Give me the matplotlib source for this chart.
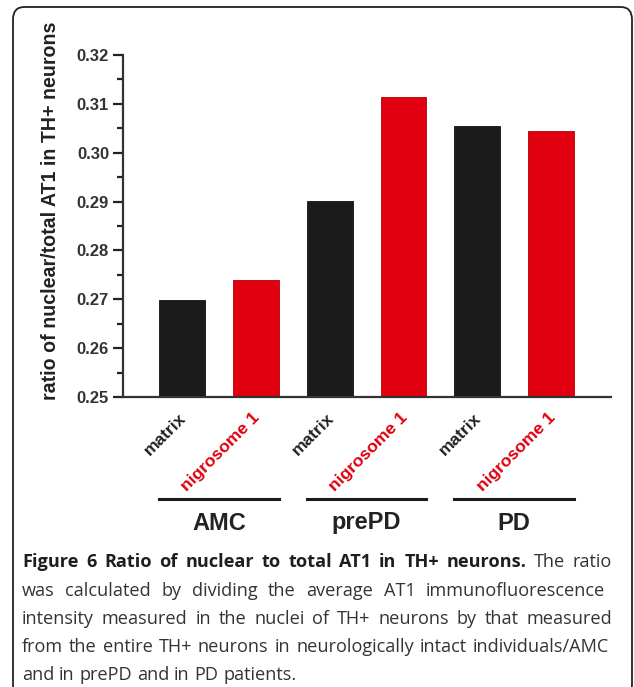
import matplotlib
matplotlib.use('Agg')
import matplotlib.pyplot as plt
from matplotlib.patches import FancyBboxPatch
from matplotlib.transforms import blended_transform_factory, ScaledTranslation

# data
labels = ['matrix', 'nigrosome 1', 'matrix', 'nigrosome 1', 'matrix', 'nigrosome 1']
values = [0.2698, 0.2739, 0.2902, 0.3114, 0.3055, 0.3045]
groups = ['AMC', 'prePD', 'PD']
black = '#1b1b1b'
red = '#e0000f'
bar_colors = [black, red, black, red, black, red]

caption_bold = 'Figure 6 Ratio of nuclear to total AT1 in TH+ neurons.'
caption_lines = ['The ratio',
                 'was calculated by dividing the average AT1 immunofluorescence',
                 'intensity measured in the nuclei of TH+ neurons by that measured',
                 'from the entire TH+ neurons in neurologically intact individuals/AMC',
                 'and in prePD and in PD patients.']


def put_line(fig, words, y, x0, x1, justify, W, H, fs):
    # words: list of (text, weight); spread them between x0 and x1
    r = fig.canvas.get_renderer()
    items = []
    for w, wt in words:
        t = fig.text(0, (H - y) / H, w, fontsize=fs, family='Open Sans',
                     fontweight=wt, va='center',
                     color='#1e1e1e' if wt == 'bold' else '#333333')
        items.append((t, t.get_window_extent(r).width))
    total = sum(wd for _, wd in items)
    if justify and len(items) > 1:
        gap = (x1 - x0 - total) / (len(items) - 1)
    else:
        gap = fs * 0.26 * 100 / 72
    x = x0
    for t, wd in items:
        t.set_x(x / W)
        x += wd + gap


def main():
    W, H = 634, 687
    fig = plt.figure(figsize=(W / 100, H / 100), dpi=100)
    plt.rcParams['font.family'] = 'Liberation Sans'

    # rounded frame round the whole figure
    box = FancyBboxPatch((13 / W, -10 / H), (632 - 13) / W, (H - 7 + 10) / H,
                         boxstyle='round,pad=0,rounding_size=0.018',
                         transform=fig.transFigure, fill=False,
                         edgecolor='#222222', lw=1.3)
    fig.patches.append(box)

    ax = fig.add_axes([123 / W, (H - 397) / H, (611 - 123) / W, (397 - 55) / H])
    x = list(range(len(values)))
    ax.bar(x, values, width=0.62, color=bar_colors, edgecolor=['#111111', '#b00000'] * 3,
           linewidth=0.6)
    ax.set_ylim(0.25, 0.32)
    ax.set_xlim(-0.80, 5.81)
    ax.set_yticks([0.25, 0.26, 0.27, 0.28, 0.29, 0.30, 0.31, 0.32])
    ax.set_yticklabels(['0.25', '0.26', '0.27', '0.28', '0.29', '0.30', '0.31', '0.32'],
                       fontweight='bold', fontsize=12, color='#333333')
    ax.set_yticks([0.255, 0.265, 0.275, 0.285, 0.295, 0.305, 0.315], minor=True)
    ax.tick_params(axis='y', which='major', length=7, width=1.6, color='#222222', pad=3)
    ax.tick_params(axis='y', which='minor', length=4, width=1.6, color='#222222')
    ax.set_xticks(x)
    ax.set_xticklabels([])
    ax.tick_params(axis='x', length=0)

    # category labels, slanted, ending a little right of each bar centre
    lab_tr = blended_transform_factory(ax.transData, ax.transAxes) + \
        ScaledTranslation(7 / 100, -13 / 100, fig.dpi_scale_trans)
    for xi, lab, c in zip(x, labels, bar_colors):
        ax.text(xi, 0, lab, transform=lab_tr, rotation=45, ha='right', va='top',
                fontweight='bold', fontsize=12.6, clip_on=False,
                color='#222222' if c == black else red)

    for s in ['top', 'right']:
        ax.spines[s].set_visible(False)
    for s in ['left', 'bottom']:
        ax.spines[s].set_linewidth(1.6)
        ax.spines[s].set_color('#333333')
    ax.set_ylabel('ratio of nuclear/total AT1 in TH+ neurons', fontweight='bold',
                  fontsize=14.1, color='#222222')
    ax.yaxis.set_label_coords(-(123 - 60) / (611 - 123), (397 - 211) / (397 - 55))

    # group lines and names
    tr = blended_transform_factory(ax.transData, fig.transFigure)
    for i, g in enumerate(groups):
        a = 2 * i - 0.31
        b = 2 * i + 1 + 0.31
        ax.plot([a, b], [(H - 499) / H] * 2, color='#1b1b1b', lw=2.2, transform=tr,
                clip_on=False)
        ax.text(2 * i + 0.5, (H - 523) / H, g, transform=tr, ha='center', va='center',
                fontsize=17, fontweight='bold', color='#222222')

    # caption, justified like the journal layout
    fig.canvas.draw()
    fs = 13.1
    cap_y = [562, 591, 619, 647, 675]
    first = [(w, 'bold') for w in caption_bold.split()] + \
            [(w, 'normal') for w in caption_lines[0].split()]
    put_line(fig, first, cap_y[0], 22, 612, True, W, H, fs)
    ends = [605, 612, 609]
    for yy, line, e in zip(cap_y[1:4], caption_lines[1:4], ends):
        put_line(fig, [(w, 'normal') for w in line.split()], yy, 22, e, True, W, H, fs)
    put_line(fig, [(w, 'normal') for w in caption_lines[4].split()], cap_y[4], 22, 0,
             False, W, H, fs)

    plt.savefig('out.png', dpi=100)


if __name__ == '__main__':
    main()
